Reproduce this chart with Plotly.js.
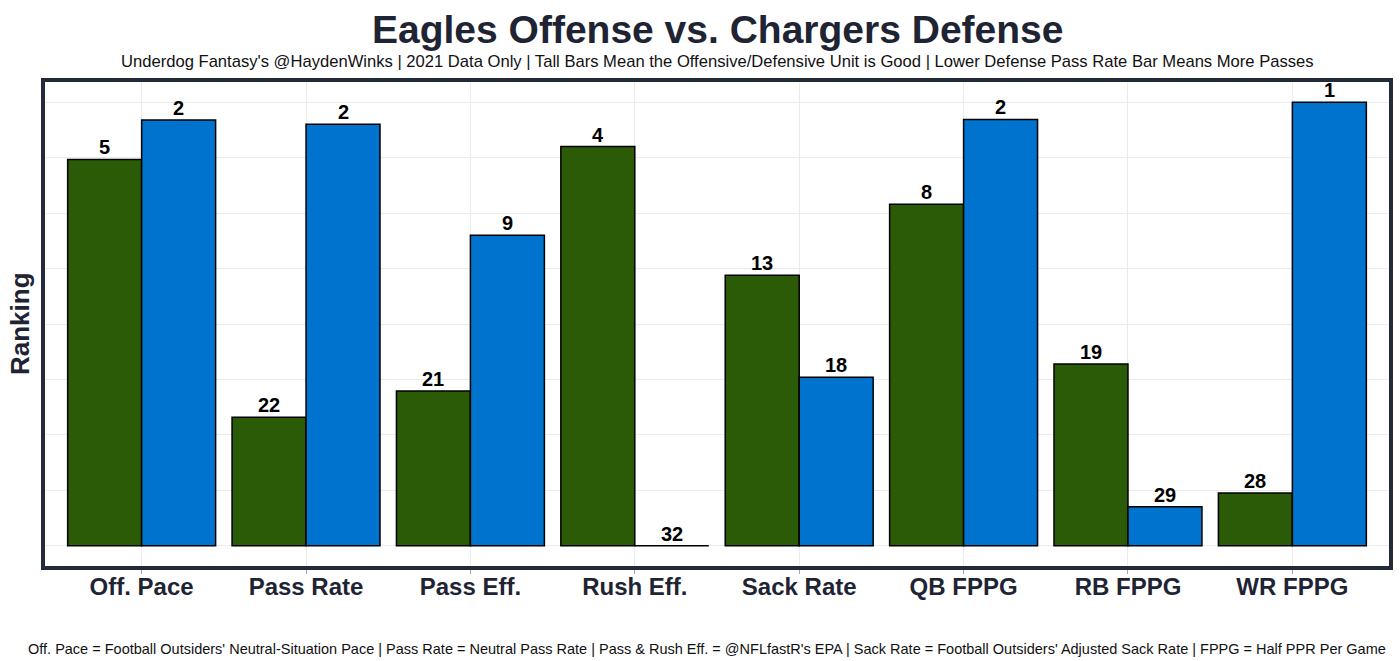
<!DOCTYPE html>
<html>
<head>
<meta charset="utf-8">
<script src="https://cdn.plot.ly/plotly-3.0.1.min.js"></script>
<style>
html,body{margin:0;padding:0;background:#fff;}
#chart{width:1400px;height:661px;}
</style>
</head>
<body>
<div id="chart"></div>
<script>
const categories = ["Off. Pace", "Pass Rate", "Pass Eff.", "Rush Eff.", "Sack Rate", "QB FPPG", "RB FPPG", "WR FPPG"];
// Bar heights (scaled 0-1)
const offenseHeight = [0.871, 0.290, 0.349, 0.900, 0.610, 0.770, 0.410, 0.119];
const defenseHeight = [0.960, 0.950, 0.700, 0.000, 0.380, 0.961, 0.088, 1.000];
// Rank labels
const offenseRank = [5, 22, 21, 4, 13, 8, 19, 28];
const defenseRank = [2, 2, 9, 32, 18, 2, 29, 1];

const titleText = "Eagles Offense vs. Chargers Defense";
const subtitleText = "Underdog Fantasy's @HaydenWinks | 2021 Data Only | Tall Bars Mean the Offensive/Defensive Unit is Good | Lower Defense Pass Rate Bar Means More Passes";
const captionText = "Off. Pace = Football Outsiders' Neutral-Situation Pace | Pass Rate = Neutral Pass Rate | Pass & Rush Eff. = @NFLfastR's EPA | Sack Rate = Football Outsiders' Adjusted Sack Rate | FPPG = Half PPR Per Game";

const FONT = "Liberation Sans, Arial, sans-serif";
const NAVY = "#1e2433";

const traces = [
  {
    type: "bar", name: "Offense", x: categories, y: offenseHeight,
    marker: {color: "#2b5b06", line: {color: "#000", width: 1.5}},
    hoverinfo: "skip"
  },
  {
    type: "bar", name: "Defense", x: categories, y: defenseHeight,
    marker: {color: "#0073cf", line: {color: "#000", width: 1.5}},
    hoverinfo: "skip"
  }
];

// plot geometry used to place rank labels over each dodged bar
const L = 43, R = 9, T = 80, B = 93, W = 1400, H = 661;
const xRange = [-0.6, 7.6];
const barGap = 0.1;
const pxPerCat = (W - L - R) / (xRange[1] - xRange[0]);
const halfBarPx = (1 - barGap) / 4 * pxPerCat;

function rankLabels(heights, ranks, side) {
  return heights.map((h, i) => ({
    text: "<b>" + ranks[i] + "</b>", x: categories[i], y: h, xref: "x", yref: "y",
    xanchor: "center", yanchor: "bottom", showarrow: false,
    xshift: side * halfBarPx, yshift: -1,
    font: {family: FONT, size: 20, color: "#000"}
  }));
}

const layout = {
  width: W, height: H,
  margin: {l: L, r: R, t: T, b: B},
  paper_bgcolor: "#fff", plot_bgcolor: "#fff",
  showlegend: false,
  barmode: "group", bargap: barGap, bargroupgap: 0,
  font: {family: FONT, color: NAVY},
  xaxis: {
    type: "category", range: xRange,
    showgrid: true, gridcolor: "#ebebeb", gridwidth: 1,
    ticks: "outside", ticklen: 5, tickcolor: "#aaaaaa", tickwidth: 1,
    ticklabelstandoff: -8,
    tickfont: {family: FONT, size: 24, color: NAVY, weight: "bold"},
    showline: false, zeroline: false, fixedrange: true
  },
  yaxis: {
    range: [-0.05, 1.05], dtick: 0.125, tick0: 0,
    showgrid: true, gridcolor: "#ebebeb", gridwidth: 1,
    showticklabels: false, ticks: "", zeroline: false, showline: false, fixedrange: true
  },
  shapes: [
    {type: "rect", xref: "paper", yref: "paper", x0: 0, x1: 1, y0: 0, y1: 1,
     line: {color: "#232a3a", width: 4}, fillcolor: "rgba(0,0,0,0)", layer: "above"}
  ],
  annotations: [
    {text: "<b>" + titleText + "</b>", xref: "paper", yref: "paper", x: 0.5, y: 1.1045,
     xanchor: "center", yanchor: "middle", showarrow: false,
     font: {family: FONT, size: 39, color: NAVY}},
    {text: subtitleText, xref: "paper", yref: "paper", x: 0.5, y: 1.0369,
     xanchor: "center", yanchor: "middle", showarrow: false,
     font: {family: FONT, size: 16.6, color: "#111"}},
    {text: captionText, xref: "paper", yref: "paper", x: 1, y: -0.167, xshift: -3,
     xanchor: "right", yanchor: "middle", showarrow: false,
     font: {family: FONT, size: 14.5, color: "#111"}},
    {text: "<b>Ranking</b>", xref: "paper", yref: "paper", x: 0, y: 0.5, xshift: -23,
     xanchor: "center", yanchor: "middle", textangle: -90, showarrow: false,
     font: {family: FONT, size: 26, color: NAVY}}
  ].concat(rankLabels(offenseHeight, offenseRank, -1), rankLabels(defenseHeight, defenseRank, 1))
};

Plotly.newPlot("chart", traces, layout, {displayModeBar: false, staticPlot: true});
</script>
</body>
</html>
